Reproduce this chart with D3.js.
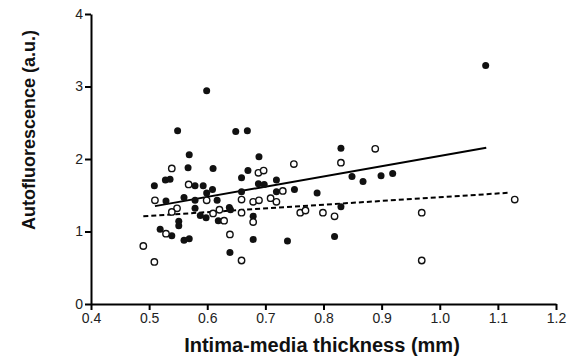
<!DOCTYPE html>
<html><head><meta charset="utf-8">
<script src="https://cdn.jsdelivr.net/npm/d3@7"></script>
<style>body{margin:0;background:#fff}svg{display:block}</style>
</head><body>
<svg id="c" width="567" height="363"></svg>
<script>
// filled circles series (x = IMT mm, y = autofluorescence a.u.)
const filledX = [0.549,0.599,0.649,0.669,1.079,0.569,0.567,0.528,0.536,0.509,0.579,0.593,0.529,0.560,0.579,0.599,0.617,0.579,0.588,0.598,0.551,0.551,0.519,0.539,0.560,0.569,0.610,0.689,0.670,0.659,0.688,0.698,0.719,0.609,0.719,0.750,0.659,0.638,0.640,0.619,0.679,0.679,0.738,0.639,0.830,0.849,0.868,0.899,0.919,0.789,0.830,0.819];
const filledY = [2.39,2.94,2.38,2.39,3.29,2.06,1.88,1.71,1.72,1.63,1.63,1.63,1.42,1.47,1.43,1.53,1.43,1.32,1.22,1.19,1.14,1.08,1.03,0.94,0.88,0.90,1.87,2.03,1.84,1.74,1.66,1.65,1.71,1.58,1.55,1.58,1.55,1.33,1.30,1.15,1.21,0.89,0.87,0.71,2.15,1.76,1.69,1.77,1.80,1.53,1.34,0.93];
// open circles series
const openX = [0.490,0.509,0.539,0.568,0.510,0.548,0.539,0.529,0.599,0.610,0.621,0.629,0.639,0.659,0.659,0.659,0.679,0.679,0.689,0.688,0.697,0.709,0.719,0.730,0.749,0.760,0.769,0.799,0.819,0.830,0.889,0.969,0.969,1.129];
const openY = [0.80,0.58,1.87,1.65,1.43,1.32,1.27,0.97,1.43,1.25,1.30,1.15,0.96,0.60,1.26,1.44,1.13,1.41,1.43,1.81,1.84,1.46,1.41,1.56,1.93,1.26,1.29,1.26,1.21,1.95,2.14,1.26,0.60,1.44];
// regression lines (endpoints)
const solidLineX = [0.51,1.08];
const solidLineY = [1.35,2.156];
const dashedLineX = [0.49,1.12];
const dashedLineY = [1.21,1.535];
const xTicks = [0.4,0.5,0.6,0.7,0.8,0.9,1.0,1.1,1.2];
const yTicks = [0,1,2,3,4];
const xTitle = "Intima-media thickness (mm)";
const yTitle = "Autofluorescence (a.u.)";

const svg = d3.select("#c");
const x = d3.scaleLinear().domain([0.4,1.2]).range([91,556]);
const y = d3.scaleLinear().domain([0,4]).range([304,14]);
const font = "Liberation Sans, Arial, sans-serif";

const gx = svg.append("g").attr("transform","translate(0,304)")
  .call(d3.axisBottom(x).tickValues(xTicks).tickFormat(d3.format(".1f")).tickSize(6).tickSizeOuter(0).tickPadding(3));
const gy = svg.append("g").attr("transform","translate(91,0)")
  .call(d3.axisLeft(y).tickValues(yTicks).tickFormat(d3.format("d")).tickSize(6).tickSizeOuter(0).tickPadding(2));
[gx,gy].forEach(g=>{
  g.select(".domain").attr("stroke","#000").attr("stroke-width",2);
  g.selectAll(".tick line").attr("stroke","#000").attr("stroke-width",2);
  g.selectAll(".tick text").attr("fill","#222").style("font-family",font).style("font-size","14px");
});

const line = d3.line().x(d=>x(d[0])).y(d=>y(d[1]));
svg.append("path").datum(d3.zip(solidLineX,solidLineY)).attr("d",line)
  .attr("fill","none").attr("stroke","#000").attr("stroke-width",2);
svg.append("path").datum(d3.zip(dashedLineX,dashedLineY)).attr("d",line)
  .attr("fill","none").attr("stroke","#000").attr("stroke-width",2).attr("stroke-dasharray","5,3");

svg.append("g").selectAll("circle").data(d3.zip(filledX,filledY)).join("circle")
  .attr("cx",d=>x(d[0])).attr("cy",d=>y(d[1])).attr("r",3.5).attr("fill","#111");
svg.append("g").selectAll("circle").data(d3.zip(openX,openY)).join("circle")
  .attr("cx",d=>x(d[0])).attr("cy",d=>y(d[1])).attr("r",3.2)
  .attr("fill","#fff").attr("stroke","#111").attr("stroke-width",1.4);

svg.append("text").attr("x",322).attr("y",352).attr("text-anchor","middle")
  .style("font-family",font).style("font-weight","bold").style("font-size","20px").attr("fill","#111").text(xTitle);
svg.append("text").attr("transform","translate(35,130) rotate(-90)").attr("text-anchor","middle")
  .style("font-family",font).style("font-weight","bold").style("font-size","18px").attr("fill","#111").text(yTitle);
</script>
</body></html>
